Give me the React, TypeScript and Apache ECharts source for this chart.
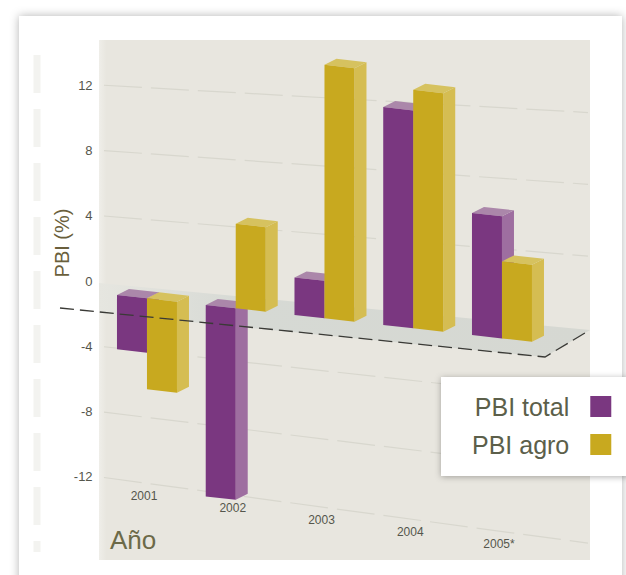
import React, { useEffect, useRef } from "react";
import * as echarts from "echarts";

const categories = ["2001", "2002", "2003", "2004", "2005*"];
const pbiTotal = [-2.9, -10.2, 2, 11.6, 6.5];
const pbiAgro = [-4.85, 4.5, 13.5, 12.7, 4.1];
const gridTicks = [12, 8, 4, -4, -8, -12];
const hiddenTicks = [16, -16];

const FONT = "'Liberation Sans', Arial, sans-serif";

const FRONT_SCALE = 1.15;
const BAR_W = 30;
const DX = 12;
const DZ = 6;

const baseOffset = (x: number) => 14 + (x - 118) * 0.113;

function barItem(offset: number, front: string, side: string, cap: string) {
  return (_p: any, api: any) => {
    const cat = api.value(0);
    const v = api.value(1);
    const c0 = api.coord([cat, 0]);
    const cv = api.coord([cat, v]);
    const h = (c0[1] - cv[1]) * FRONT_SCALE;
    const x = c0[0] + offset;
    const yL = c0[1] + baseOffset(x);
    const yR = c0[1] + baseOffset(x + BAR_W);
    const tL = v > 0 ? yL - h : yL;
    const tR = v > 0 ? yR - h : yR;
    const bL = v > 0 ? yL : yL - h;
    const bR = v > 0 ? yR : yR - h;
    const xR = x + BAR_W;
    return {
      type: "group",
      children: [
        {
          type: "polygon",
          shape: { points: [[xR, tR], [xR + DX, tR - DZ], [xR + DX, bR - DZ], [xR, bR]] },
          style: { fill: side },
        },
        {
          type: "polygon",
          shape: { points: [[x, tL], [xR, tR], [xR + DX, tR - DZ], [x + DX, tL - DZ]] },
          style: { fill: cap },
        },
        {
          type: "polygon",
          shape: { points: [[x, tL], [xR, tR], [xR, bR], [x, bL]] },
          style: { fill: front },
        },
      ],
    };
  };
}

export default function App() {
  const ref = useRef<HTMLDivElement>(null);
  useEffect(() => {
    const chart = echarts.init(ref.current!, undefined, { renderer: "svg" });
    chart.setOption({
      animation: false,
      backgroundColor: "#ffffff",
      grid: { left: 102.6, width: 443.75, top: 19.7, height: 522.6 },
      xAxis: { type: "category", data: categories, show: false },
      yAxis: {
        type: "value",
        min: -16,
        max: 16,
        interval: 4,
        axisLine: { show: false },
        axisTick: { show: false },
        splitLine: { show: false },
        axisLabel: {
          margin: 10,
          fontSize: 13,
          fontFamily: FONT,
          color: "#55564c",
          formatter: (v: number) => (hiddenTicks.includes(v) ? "" : String(v)),
        },
      },
      legend: {
        orient: "vertical",
        align: "right",
        left: 467,
        top: 389,
        itemWidth: 21,
        itemHeight: 21,
        itemGap: 13,
        selectedMode: false,
        textStyle: { fontSize: 25, fontFamily: FONT, color: "#5c5f4a", padding: [0, 16, 0, 0] },
        data: [
          { name: "PBI total", icon: "rect" },
          { name: "PBI agro", icon: "rect" },
        ],
      },
      graphic: [
        {
          type: "rect",
          z: 0,
          shape: { x: 19, y: 16, width: 603, height: 570 },
          style: { fill: "#ffffff", shadowBlur: 10, shadowColor: "rgba(0,0,0,0.3)" },
        },
        {
          type: "line",
          z: 0,
          shape: { x1: 37, y1: 55, x2: 37, y2: 552 },
          style: { stroke: "#f3f3f0", lineWidth: 7, lineDash: [38, 16] },
        },
        {
          type: "rect",
          z: 0,
          shape: { x: 99, y: 40, width: 491, height: 520 },
          style: {
            fill: {
              type: "linear", x: 0, y: 0, x2: 1, y2: 0,
              colorStops: [
                { offset: 0, color: "#efeee9" },
                { offset: 0.015, color: "#e8e6df" },
                { offset: 1, color: "#e8e6df" },
              ],
            },
          },
        },
        {
          type: "polygon",
          z: 1,
          shape: { points: [[99, 283], [590, 330], [545, 357], [99, 313]] },
          style: {
            fill: {
              type: "linear", x: 0, y: 0, x2: 1, y2: 0,
              colorStops: [
                { offset: 0, color: "#e6e6e0" },
                { offset: 0.3, color: "#d6d9d4" },
                { offset: 1, color: "#d6d8d2" },
              ],
            },
          },
        },
        {
          type: "polyline",
          z: 3,
          shape: { points: [[60, 308], [545, 357], [590, 330]] },
          style: { stroke: "#3a3a36", lineWidth: 1.3, lineDash: [14, 6], fill: "none" },
        },
        {
          type: "rect",
          z: 3,
          shape: { x: 441, y: 377, width: 190, height: 99 },
          style: { fill: "#ffffff", shadowBlur: 6, shadowColor: "rgba(0,0,0,0.3)", shadowOffsetY: 1 },
        },
        {
          type: "text",
          z: 3,
          x: 62,
          y: 243,
          rotation: Math.PI / 2,
          style: {
            text: "PBI (%)",
            fontSize: 20,
            fontFamily: FONT,
            fill: "#6a5f3c",
            textAlign: "center",
            textVerticalAlign: "middle",
          },
        },
        {
          type: "text",
          z: 3,
          x: 110,
          y: 527,
          style: { text: "Año", fontSize: 26, fontFamily: FONT, fill: "#6c6a48" },
        },
      ],
      series: [
        {
          type: "custom",
          coordinateSystem: "cartesian2d",
          silent: true,
          z: 2,
          data: gridTicks.map((v) => [0, v]),
          encode: { x: 0, y: 1 },
          renderItem: (_p: any, api: any) => {
            const v = api.value(1);
            const y = api.coord([0, v])[1];
            const slope = 0.096 - 0.0033 * v;
            const x1 = 104;
            const x2 = 588;
            return {
              type: "line",
              shape: { x1, y1: y + slope * 4, x2, y2: y + slope * (x2 - 100) },
              style: { stroke: "#d8d7ce", lineWidth: 1.2, lineDash: [38, 9] },
            };
          },
        },
        {
          name: "PBI total",
          type: "custom",
          coordinateSystem: "cartesian2d",
          itemStyle: { color: "#7a3780" },
          data: pbiTotal.map((v, i) => [i, v]),
          encode: { x: 0, y: 1 },
          z: 2,
          renderItem: barItem(-BAR_W, "#7a3780", "#9e6ea0", "#ab87aa"),
        },
        {
          name: "PBI agro",
          type: "custom",
          coordinateSystem: "cartesian2d",
          itemStyle: { color: "#c8a91f" },
          data: pbiAgro.map((v, i) => [i, v]),
          encode: { x: 0, y: 1 },
          z: 2,
          renderItem: barItem(0, "#c8a91f", "#d5bd52", "#d6c25f"),
        },
        {
          type: "custom",
          coordinateSystem: "cartesian2d",
          silent: true,
          z: 3,
          data: categories.map((_c, i) => [i, 0]),
          encode: { x: 0, y: 1 },
          renderItem: (p: any, api: any) => {
            const c = api.coord([api.value(0), 0]);
            const x = c[0] - 3;
            return {
              type: "text",
              x,
              y: 496 + (x - 141) * 0.134,
              style: {
                text: categories[p.dataIndex],
                fontSize: 12,
                fontFamily: FONT,
                fill: "#55564c",
                textAlign: "center",
                textVerticalAlign: "middle",
              },
            };
          },
        },
      ],
    });
    return () => chart.dispose();
  }, []);
  return <div ref={ref} style={{ position: "absolute", left: 0, top: 0, width: 626, height: 575 }} />;
}
